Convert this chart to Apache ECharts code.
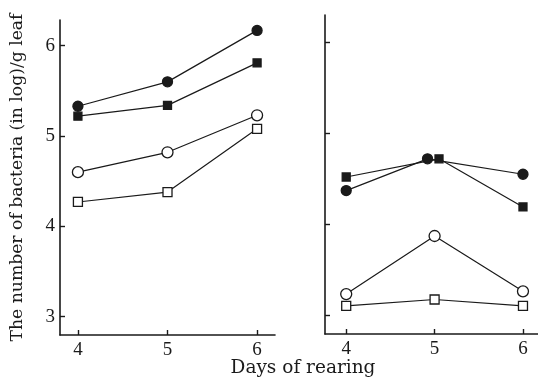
<!DOCTYPE html>
<html>
<head>
<meta charset="utf-8">
<script src="https://cdn.jsdelivr.net/npm/echarts@6/dist/echarts.min.js"></script>
<style>
html,body{margin:0;padding:0;background:#fff;}
#c{width:538px;height:386px;}
</style>
</head>
<body>
<div id="c"></div>
<script>
// Days of rearing
var days = [4, 5, 6];
var yTicks = [3, 4, 5, 6];
// Left panel
var leftFilledCircle = [5.33, 5.60, 6.17];
var leftFilledSquare = [5.22, 5.34, 5.81];
var leftOpenCircle   = [4.60, 4.82, 5.23];
var leftOpenSquare   = [4.27, 4.38, 5.08];
// Right panel (at day 5 the two filled markers are drawn side by side)
var rightFilledCircleX = [4, 4.92, 6];
var rightFilledSquareX = [4, 5.05, 6];
var rightFilledCircle = [4.37, 4.72, 4.55];
var rightFilledSquare = [4.52, 4.72, 4.19];
var rightOpenCircle   = [3.23, 3.87, 3.26];
var rightOpenSquare   = [3.10, 3.17, 3.10];

var xTitle = 'Days of rearing';
var yTitle = 'The number of bacteria (in log)/g leaf';

var FONT = '"Liberation Serif", "DejaVu Serif", serif';
var TFONT = '"DejaVu Serif", serif';
var INK = '#1a1a1a';

function pairs(xs, ys) { return xs.map(function (x, i) { return [x, ys[i]]; }); }

function mkSeries(name, xs, ys, idx, symbol, filled, size) {
  return {
    name: name, type: 'line', xAxisIndex: idx, yAxisIndex: idx,
    data: pairs(xs, ys),
    symbol: symbol, symbolSize: size, showSymbol: true,
    lineStyle: { color: INK, width: 1.2 },
    itemStyle: { color: filled ? INK : '#fff', borderColor: INK, borderWidth: 1.3, opacity: 1 },
    z: filled ? 3 : 2,
    animation: false
  };
}

function xAx(idx, min, max) {
  return {
    type: 'value', gridIndex: idx, min: min, max: max,
    axisLine: { show: true, onZero: false, lineStyle: { color: INK, width: 1.6 } },
    axisTick: { show: true, inside: true, length: 5, customValues: days, lineStyle: { color: INK, width: 1.4 } },
    axisLabel: { show: true, customValues: days, color: INK, fontFamily: FONT, fontSize: 19, margin: 6 },
    splitLine: { show: false }
  };
}
function yAx(idx, min, max, labels) {
  return {
    type: 'value', gridIndex: idx, min: min, max: max,
    axisLine: { show: true, onZero: false, lineStyle: { color: INK, width: 1.6 } },
    axisTick: { show: true, inside: true, length: 5, customValues: yTicks, lineStyle: { color: INK, width: 1.4 } },
    axisLabel: { show: labels, customValues: yTicks, color: INK, fontFamily: FONT, fontSize: 19, margin: 5 },
    splitLine: { show: false },
    name: labels ? yTitle : '',
    nameLocation: 'middle', nameGap: 34,
    nameTextStyle: { color: INK, fontFamily: TFONT, fontSize: 17.2 }
  };
}

var chart = echarts.init(document.getElementById('c'), null, { renderer: 'canvas' });
chart.setOption({
  backgroundColor: '#fff',
  animation: false,
  grid: [
    { left: 60, top: 20, width: 215, height: 315 },
    { left: 325, top: 15, width: 213, height: 319 }
  ],
  xAxis: [xAx(0, 3.8, 6.2), xAx(1, 3.76, 6.17)],
  yAxis: [yAx(0, 2.797, 6.285, true), yAx(1, 2.79, 6.305, false)],
  graphic: [{
    type: 'text', x: 303, y: 359,
    style: { text: xTitle, fill: INK, font: '18.5px ' + TFONT, textAlign: 'center', textVerticalAlign: 'top' }
  }],
  series: [
    mkSeries('lfc', days, leftFilledCircle, 0, 'circle', true, 10),
    mkSeries('lfs', days, leftFilledSquare, 0, 'rect', true, 8),
    mkSeries('loc', days, leftOpenCircle, 0, 'circle', false, 11),
    mkSeries('los', days, leftOpenSquare, 0, 'rect', false, 9),
    mkSeries('rfc', rightFilledCircleX, rightFilledCircle, 1, 'circle', true, 10),
    mkSeries('rfs', rightFilledSquareX, rightFilledSquare, 1, 'rect', true, 8),
    mkSeries('roc', days, rightOpenCircle, 1, 'circle', false, 11),
    mkSeries('ros', days, rightOpenSquare, 1, 'rect', false, 9)
  ]
});
</script>
</body>
</html>
